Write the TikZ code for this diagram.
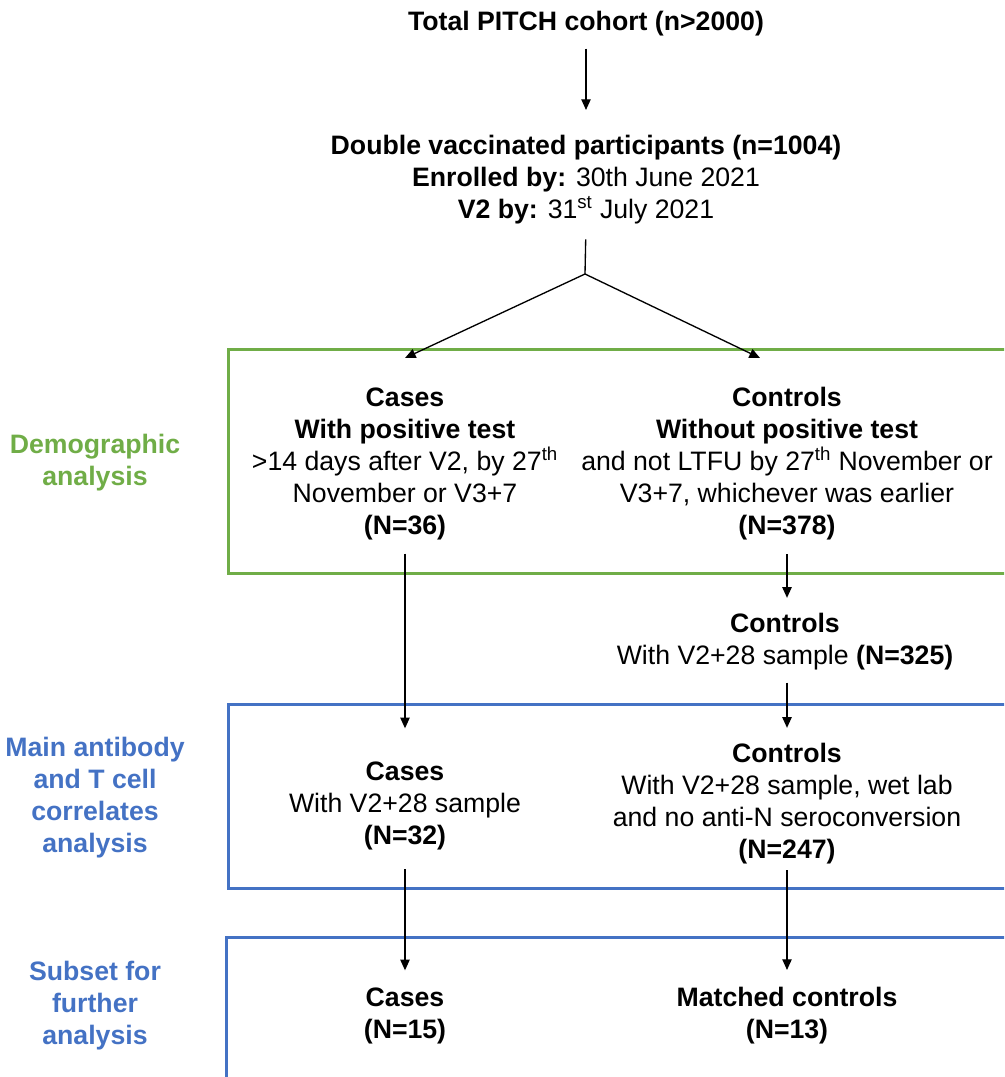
\documentclass[tikz,border=0pt]{standalone}
\usepackage{fontspec}
\setmainfont{Liberation Sans}
\usetikzlibrary{arrows.meta}
\definecolor{demogreen}{HTML}{70AD47}
\definecolor{corrblue}{HTML}{4472C4}

\begin{document}
\begin{tikzpicture}[x=0.75pt,y=-0.75pt,
    every node/.style={align=center,inner sep=0pt,font=\fontsize{20}{24}\selectfont},
    grouplabel/.style={font=\fontsize{20}{24}\selectfont\bfseries},
    arr/.style={-{Triangle[length=8pt,width=7pt]},line width=1pt},
    frame/.style={line width=2.25pt}]
    \useasboundingbox (0,0) rectangle (1004,1077);
    \clip (0,0) rectangle (1004,1077);

    % frames round the three analysis stages
    \draw[frame,demogreen] (228,349) rectangle (1020,573);
    \draw[frame,corrblue] (228,704) rectangle (1020,888);
    \draw[frame,corrblue] (226,937) rectangle (1020,1100);

    % stage labels
    \node[grouplabel,text=demogreen] (demo) at (95,463) {Demographic\\analysis};
    \node[grouplabel,text=corrblue] (corr) at (95,798) {Main antibody\\and T cell\\correlates\\analysis};
    \node[grouplabel,text=corrblue] (subset) at (95,1006) {Subset for\\further\\analysis};

    % flow
    \node (total) at (586,24) {\textbf{Total PITCH cohort (n>2000)}};
    \node (dv) at (586,180) {\textbf{Double vaccinated participants (n=1004)}\\
        \textbf{Enrolled by:} 30th June 2021\\
        \textbf{V2 by:} 31\textsuperscript{st} July 2021};
    \coordinate (split) at (585,274);
    \coordinate (tipL) at (405,358);
    \coordinate (tipR) at (760,358);

    \node (cas1) at (405,464) {\textbf{Cases}\\\textbf{With positive test}\\
        >14 days after V2, by 27\textsuperscript{th}\\November or V3+7\\\textbf{(N=36)}};
    \node (con1) at (787,464) {\textbf{Controls}\\\textbf{Without positive test}\\
        and not LTFU by 27\textsuperscript{th} November or\\V3+7, whichever was earlier\\\textbf{(N=378)}};
    \node (con2) at (785,642) {\textbf{Controls}\\With V2+28 sample \textbf{(N=325)}};

    \node (cas2) at (405,806) {\textbf{Cases}\\With V2+28 sample\\\textbf{(N=32)}};
    \node (con3) at (787,804) {\textbf{Controls}\\With V2+28 sample, wet lab\\
        and no anti-N seroconversion\\\textbf{(N=247)}};

    \node (cas3) at (405,1016) {\textbf{Cases}\\\textbf{(N=15)}};
    \node (con4) at (787,1016) {\textbf{Matched controls}\\\textbf{(N=13)}};

    \draw[arr,shorten <=9pt,shorten >=19pt] (total) -- (dv);
    \draw[line width=1pt,shorten <=11pt] (dv.south) -- (split);
    \draw[arr] (split) -- (tipL);
    \draw[arr] (split) -- (tipR);
    \draw[arr,shorten <=10pt,shorten >=25pt] (cas1) -- (cas2);
    \draw[arr,shorten <=10pt,shorten >=11.6pt] (con1) -- (con2.north -| con1);
    \draw[arr,shorten <=9pt,shorten >=11.6pt] (con2.south -| con3) -- (con3);
    \draw[arr,shorten <=14pt,shorten >=13pt] (cas2) -- (cas3);
    \draw[arr,shorten <=4pt,shorten >=13pt] (con3) -- (con4);
\end{tikzpicture}
\end{document}
